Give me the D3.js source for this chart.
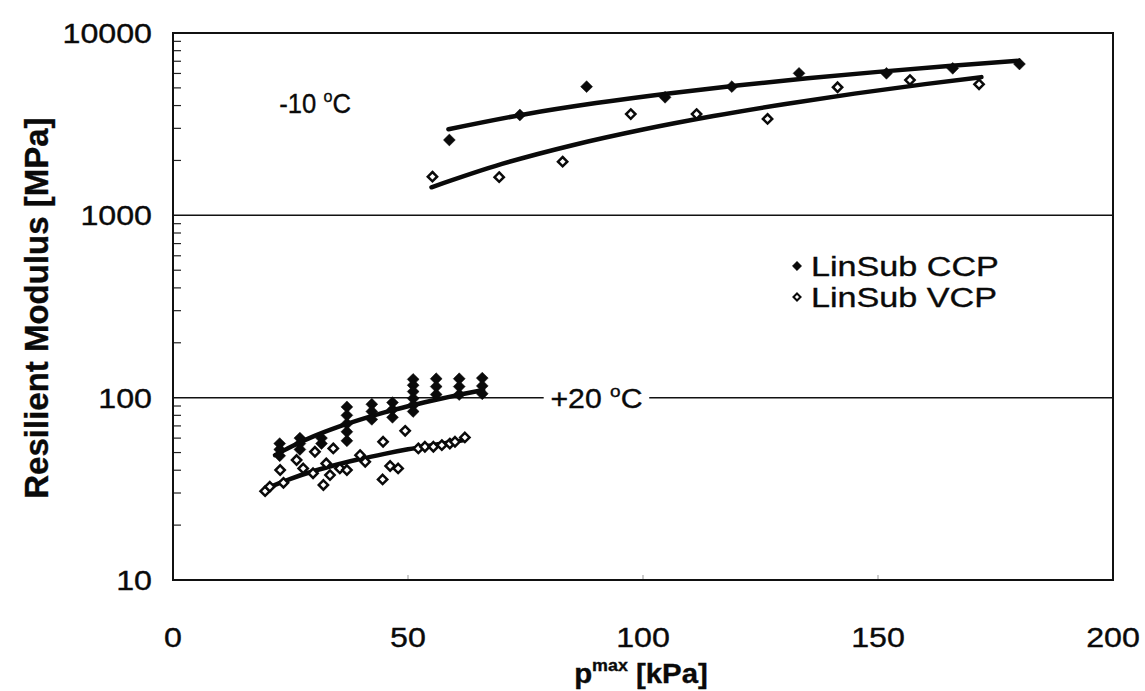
<!DOCTYPE html>
<html>
<head>
<meta charset="utf-8">
<script src="https://cdn.jsdelivr.net/npm/d3@7"></script>
<style>
  body { margin: 0; background: #fff; }
  text { font-family: "Liberation Sans", Arial, sans-serif; fill: #0a0a0a; stroke: #0a0a0a; stroke-width: 0.35px; }
</style>
</head>
<body>
<div id="root"></div>
<script>
// -10 C, LinSub CCP (filled diamonds)
const ccpColdP = [58.8, 73.8, 88.0, 104.7, 118.9, 133.2, 151.8, 165.9, 180.1];
const ccpColdM = [2590, 3550, 5080, 4440, 5080, 6010, 6010, 6400, 6760];
// -10 C, LinSub VCP (open diamonds)
const vcpColdP = [55.2, 69.4, 82.9, 97.4, 111.4, 126.5, 141.4, 156.8, 171.5];
const vcpColdM = [1630, 1620, 1970, 3590, 3590, 3380, 5040, 5520, 5230];

// +20 C, LinSub CCP
const ccpWarmP = [22.7, 22.7, 22.7, 27.0, 27.0, 27.0, 31.6, 31.6,
  37.0, 37.0, 37.0, 37.0, 37.0, 42.3, 42.3, 42.3, 46.7, 46.7, 46.7,
  51.1, 51.1, 51.1, 51.1, 51.1, 51.1, 56.0, 56.0, 56.0,
  60.9, 60.9, 60.9, 65.8, 65.8, 65.8];
const ccpWarmM = [56, 52, 48, 60, 56, 52, 60, 56,
  89, 80, 72, 65, 58, 92, 84, 76, 94, 86, 78,
  126, 117, 108, 99, 91, 84, 127, 115, 104,
  127, 115, 104, 128, 116, 105];
// +20 C, LinSub VCP
const vcpWarmP = [19.6, 20.6, 22.8, 23.5, 26.3, 27.7, 29.8, 30.2, 32.0, 32.6, 33.4, 34.1,
  35.5, 37.0, 39.8, 40.9, 44.6, 44.7, 46.2, 47.9, 49.4, 52.2, 53.6, 55.4, 57.2, 58.9, 60.0, 62.1];
const vcpWarmM = [30.7, 32.5, 40.1, 34.1, 45.5, 40.9, 38.5, 50.5, 33.2, 43.6, 37.6, 52.7,
  40.9, 40.1, 48.4, 44.5, 35.6, 57.3, 42.2, 40.9, 65.8, 52.7, 53.8, 53.8, 54.9, 56.0, 57.3, 60.5];

// fitted trend curves
const ccpColdFitP = [58.6, 75, 90, 105, 120, 135, 150, 165, 180];
const ccpColdFitM = [2965, 3587, 4127, 4649, 5153, 5643, 6120, 6587, 7043];
const vcpColdFitP = [55, 70, 85, 100, 115, 130, 145, 160, 172];
const vcpColdFitM = [1425, 1913, 2424, 2955, 3504, 4070, 4650, 5243, 5728];
const ccpWarmFitP = [21.7, 25, 30, 35, 40, 45, 50, 55, 60, 66];
const ccpWarmFitM = [48.4, 53.7, 61.5, 68.9, 76.0, 83.0, 89.7, 96.2, 102.6, 110.1];
const vcpWarmFitP = [20, 25, 30, 35, 40, 45, 50, 55, 62];
const vcpWarmFitM = [31.9, 35.9, 39.6, 43.0, 46.2, 49.2, 52.1, 54.8, 58.5];

const xTicks = [0, 50, 100, 150, 200];
const yTicks = [10, 100, 1000, 10000];
const gridValues = [100, 1000];
const seriesNames = ["LinSub CCP", "LinSub VCP"];

const W = 1145, H = 691;
const margin = { top: 33, right: 32, bottom: 111, left: 173 };
const width = W - margin.left - margin.right;
const height = H - margin.top - margin.bottom;

const svg = d3.select("#root").append("svg")
  .attr("width", W).attr("height", H)
  .style("display", "block");

const g = svg.append("g").attr("transform", "translate(" + margin.left + "," + margin.top + ")");

const x = d3.scaleLinear().domain([0, 200]).range([0, width]);
const y = d3.scaleLog().domain([10, 10000]).range([height, 0]);

const zip = (a, b) => a.map((v, i) => [v, b[i]]);

// text helper, scan is a bit wider than plain Arial
const txt = (parent, tx, ty, s, size, anchor, sx, weight) => {
  return parent.append("text")
    .attr("transform", "translate(" + tx + "," + ty + ") scale(" + (sx || 1.15) + ",1)")
    .attr("text-anchor", anchor || "start")
    .style("font-size", size + "px")
    .style("font-weight", weight || "normal")
    .text(s);
};

// grid lines at the decades
g.selectAll(".grid").data(gridValues).enter().append("line")
  .attr("x1", 0).attr("x2", width)
  .attr("y1", d => y(d)).attr("y2", d => y(d))
  .attr("stroke", "#111").attr("stroke-width", 1.5);

// minor ticks on the left edge
const minor = [];
[10, 100, 1000].forEach(d => { for (let k = 2; k <= 9; k++) minor.push(k * d); });
g.selectAll(".minor").data(minor).enter().append("line")
  .attr("x1", 0).attr("x2", 8)
  .attr("y1", d => y(d)).attr("y2", d => y(d))
  .attr("stroke", "#222").attr("stroke-width", 1.2);

// faint ticks on bottom edge
g.selectAll(".xt").data(xTicks.slice(1, -1)).enter().append("line")
  .attr("x1", d => x(d)).attr("x2", d => x(d))
  .attr("y1", height).attr("y2", height - 5)
  .attr("stroke", "#999").attr("stroke-width", 1);

// frame
g.append("rect").attr("width", width).attr("height", height)
  .attr("fill", "none").attr("stroke", "#111").attr("stroke-width", 2);

// tick labels
yTicks.forEach(v => txt(svg, 152, margin.top + y(v) + 10, String(v), 28, "end"));
xTicks.forEach(v => txt(svg, margin.left + x(v), 647, String(v), 28, "middle"));

// axis titles
svg.append("text")
  .attr("transform", "translate(48," + (margin.top + y(310)) + ") rotate(-90)")
  .attr("text-anchor", "middle")
  .style("font-size", "33px").style("font-weight", "bold")
  .text("Resilient Modulus [MPa]");

const xt = txt(svg, 641, 683, "", 28, "middle", 1.05, "bold");
xt.append("tspan").text("p");
xt.append("tspan").attr("dy", -12).style("font-size", "17px").text("max");
xt.append("tspan").attr("dy", 12).text(" [kPa]");

// temperature labels
const degLabel = (tx, ty, pre, sx, withBg) => {
  const lg = g.append("g").attr("transform", "translate(" + tx + "," + ty + ") scale(" + sx + ",1)");
  const t = lg.append("text").style("font-size", "27px");
  t.append("tspan").text(pre);
  t.append("tspan").attr("dy", -11).style("font-size", "17px").text("o");
  t.append("tspan").attr("dy", 11).text("C");
  if (withBg) {
    const b = t.node().getBBox();
    lg.insert("rect", "text")
      .attr("x", b.x - 6).attr("y", b.y - 2)
      .attr("width", b.width + 12).attr("height", b.height + 4)
      .attr("fill", "#fff");
  }
};
degLabel(x(22.6), y(3650), "-10 ", 0.95, false);
degLabel(x(80.3), y(100) + 10, "+20 ", 1.12, true);

// fit curves
const line = d3.line().x(d => x(d[0])).y(d => y(d[1])).curve(d3.curveMonotoneX);
[[ccpColdFitP, ccpColdFitM], [vcpColdFitP, vcpColdFitM],
 [ccpWarmFitP, ccpWarmFitM], [vcpWarmFitP, vcpWarmFitM]].forEach(s => {
  g.append("path").datum(zip(s[0], s[1]))
    .attr("d", line)
    .attr("fill", "none").attr("stroke", "#0a0a0a")
    .attr("stroke-width", 4.5).attr("stroke-linecap", "round");
});

// markers
const filled = d3.symbol().type(d3.symbolDiamond2).size(90);
const open = d3.symbol().type(d3.symbolDiamond2).size(55);

const drawPts = (P, M, isOpen) => {
  g.append("g").selectAll("path").data(zip(P, M)).enter().append("path")
    .attr("transform", d => "translate(" + x(d[0]) + "," + y(d[1]) + ")")
    .attr("d", isOpen ? open : filled)
    .attr("fill", isOpen ? "#fff" : "#0a0a0a")
    .attr("stroke", "#0a0a0a")
    .attr("stroke-width", isOpen ? 2.5 : 0.5);
};
drawPts(vcpWarmP, vcpWarmM, true);
drawPts(ccpWarmP, ccpWarmM, false);
drawPts(vcpColdP, vcpColdM, true);
drawPts(ccpColdP, ccpColdM, false);

// legend
const leg = g.append("g").attr("transform", "translate(" + (797 - margin.left) + "," + (266 - margin.top) + ")");
seriesNames.forEach((name, i) => {
  const row = leg.append("g").attr("transform", "translate(0," + (i * 31) + ")");
  row.append("path").attr("d", i === 0 ? d3.symbol().type(d3.symbolDiamond2).size(55)() : d3.symbol().type(d3.symbolDiamond2).size(32)())
    .attr("fill", i === 0 ? "#0a0a0a" : "#fff")
    .attr("stroke", "#0a0a0a").attr("stroke-width", i === 0 ? 0.5 : 2);
  txt(row, 14, 10, name, 28, "start", 1.22);
});
</script>
</body>
</html>
